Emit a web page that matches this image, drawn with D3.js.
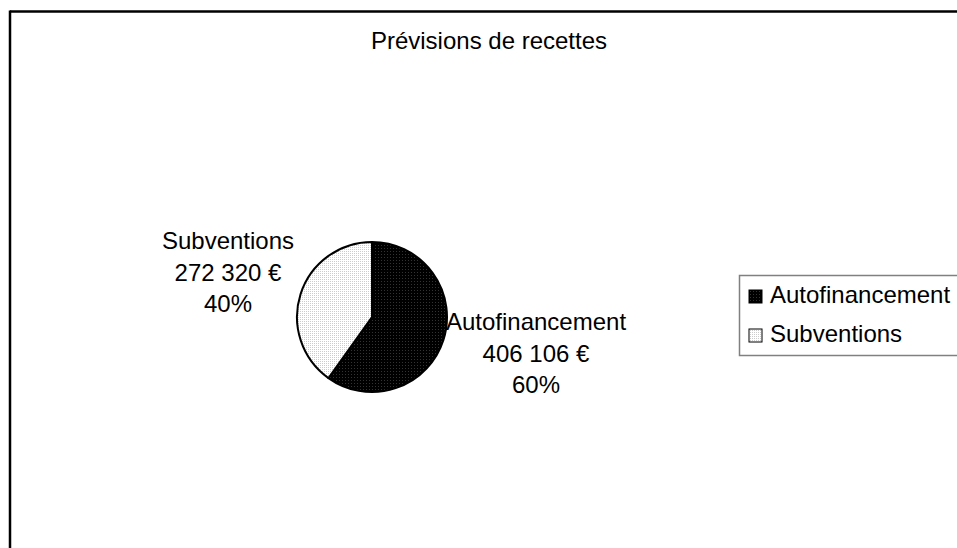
<!DOCTYPE html>
<html>
<head>
<meta charset="utf-8">
<script src="https://cdn.jsdelivr.net/npm/d3@7"></script>
<style>
  html, body { margin: 0; padding: 0; background: #fff; }
  svg { display: block; }
  text { font-family: "Liberation Sans", Arial, sans-serif; fill: #000; }
</style>
</head>
<body>
<svg id="chart" width="957" height="548"></svg>
<script>
const title = "Prévisions de recettes";
const categories = ["Autofinancement", "Subventions"];
const values = [406106, 272320];
const patternIds = ["patDark", "patLight"];

const W = 957, H = 548;
const svg = d3.select("#chart");

const defs = svg.append("defs");
const pd = defs.append("pattern").attr("id", "patDark").attr("patternUnits", "userSpaceOnUse")
  .attr("width", 3).attr("height", 3);
pd.append("rect").attr("width", 3).attr("height", 3).attr("fill", "#000");
pd.append("rect").attr("width", 1).attr("height", 1).attr("fill", "#333");
const pl = defs.append("pattern").attr("id", "patLight").attr("patternUnits", "userSpaceOnUse")
  .attr("width", 2).attr("height", 2);
pl.append("rect").attr("width", 2).attr("height", 2).attr("fill", "#fff");
pl.append("rect").attr("width", 1).attr("height", 1).attr("fill", "#cccccc");

// frame
svg.append("line").attr("x1", 10).attr("x2", W).attr("y1", 11.5).attr("y2", 11.5)
  .attr("stroke", "#000").attr("stroke-width", 2.5);
svg.append("line").attr("x1", 10).attr("x2", 10).attr("y1", 10.5).attr("y2", H)
  .attr("stroke", "#000").attr("stroke-width", 2.5);

// title
svg.append("text").attr("x", 489).attr("y", 49).attr("text-anchor", "middle")
  .style("font-size", "24px").text(title);

// pie
const cx = 372, cy = 317, R = 75;
const pie = d3.pie().sort(null).value(d => d.v);
const data = categories.map((c, i) => ({ c, v: values[i], i }));
const arcs = pie(data);
const arc = d3.arc().innerRadius(0).outerRadius(R);
const total = d3.sum(values);
const g = svg.append("g").attr("transform", `translate(${cx},${cy})`);
g.selectAll("path").data(arcs).join("path")
  .attr("d", arc)
  .attr("fill", d => `url(#${patternIds[d.data.i]})`)
  .attr("stroke", "#000").attr("stroke-width", 2).attr("stroke-linejoin", "round");

const loc = d3.formatLocale({ decimal: ",", thousands: " ", grouping: [3], currency: ["", " €"] });
const fmt = loc.format(",");

// labels positions (anchor centers)
const labelPos = [{ x: 536, y: 330 }, { x: 228, y: 249 }];
const lh = 31.5;
arcs.forEach(d => {
  const p = labelPos[d.data.i];
  const lines = [d.data.c, fmt(d.data.v) + " €", Math.round(d.data.v / total * 100) + "%"];
  const t = svg.append("text").attr("text-anchor", "middle").style("font-size", "24px");
  lines.forEach((s, k) => {
    t.append("tspan").attr("x", p.x).attr("y", p.y + k * lh).text(s);
  });
});

// legend
const lg = svg.append("g");
lg.append("rect").attr("x", 739.5).attr("y", 275.5).attr("width", 240).attr("height", 80)
  .attr("fill", "#fff").attr("stroke", "#808080").attr("stroke-width", 1.5);
categories.forEach((c, i) => {
  const y = 303 + i * 39;
  lg.append("rect").attr("x", 749).attr("y", y - 13).attr("width", 13).attr("height", 13)
    .attr("fill", `url(#${patternIds[i]})`).attr("stroke", "#000").attr("stroke-width", 1);
  lg.append("text").attr("x", 770).attr("y", y).style("font-size", "24px").text(c);
});
</script>
</body>
</html>
